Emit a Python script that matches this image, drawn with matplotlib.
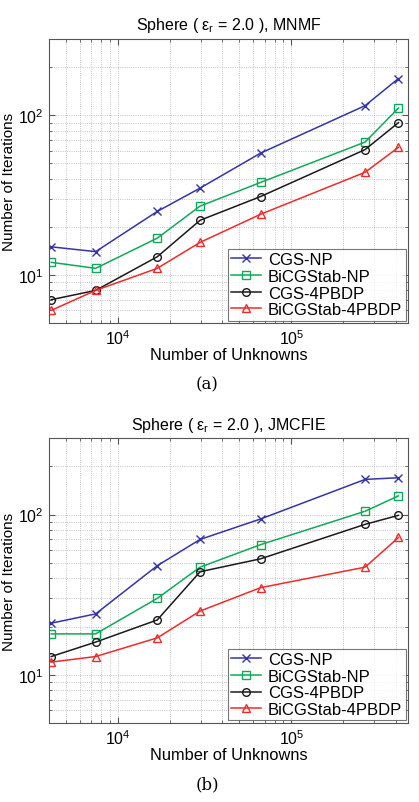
import matplotlib
matplotlib.use("Agg")
import matplotlib.pyplot as plt
from matplotlib.ticker import LogLocator, NullFormatter

plt.rcParams['font.family'] = ['Liberation Sans', 'DejaVu Sans']
plt.rcParams['mathtext.fontset'] = 'custom'
plt.rcParams['mathtext.rm'] = 'Liberation Sans'
plt.rcParams['mathtext.it'] = 'Liberation Sans'

# Number of unknowns (shared by both panels)
unknowns = [4100, 7400, 16800, 29700, 66500, 267000, 416000]

labels = ["CGS-NP", "BiCGStab-NP", "CGS-4PBDP", "BiCGStab-4PBDP"]

# (a) MNMF
mnmf_cgs_np = [15, 14, 25, 35, 58, 115, 170]
mnmf_bicg_np = [12, 11, 17, 27, 38, 68, 111]
mnmf_cgs_pb = [7, 8, 13, 22, 31, 61, 90]
mnmf_bicg_pb = [6, 8, 11, 16, 24, 44, 63]

# (b) JMCFIE
jm_cgs_np = [21, 24, 48, 70, 94, 166, 170]
jm_bicg_np = [18, 18, 30, 47, 65, 105, 131]
jm_cgs_pb = [13, 16, 22, 44, 53, 87, 99]
jm_bicg_pb = [12, 13, 17, 25, 35, 47, 72]

colors = ['#3434a8', '#12a85a', '#1a1a1a', '#ee2b2b']
markers = ['x', 's', 'o', '^']

panels = [
    ("MNMF", [mnmf_cgs_np, mnmf_bicg_np, mnmf_cgs_pb, mnmf_bicg_pb], "(a)"),
    ("JMCFIE", [jm_cgs_np, jm_bicg_np, jm_cgs_pb, jm_bicg_pb], "(b)"),
]

fig = plt.figure(figsize=(4.19, 8.03), dpi=100)
boxes = [[0.117, 0.5965, 0.857, 0.3535], [0.117, 0.0984, 0.857, 0.3546]]

for (name, series, tag), box in zip(panels, boxes):
    ax = fig.add_axes(box)
    for vals, lab, c, m in zip(series, labels, colors, markers):
        ax.plot(unknowns, vals, color=c, marker=m, markersize=5.5,
                markerfacecolor='none', markeredgewidth=1.0, linewidth=1.1,
                label=lab)
    ax.set_xscale('log')
    ax.set_yscale('log')
    ax.set_xlim(3980, 473000)
    ax.set_ylim(5, 300)
    ax.xaxis.set_major_locator(LogLocator(base=10, numticks=10))
    ax.xaxis.set_minor_locator(LogLocator(base=10, subs=range(2, 10), numticks=20))
    ax.xaxis.set_minor_formatter(NullFormatter())
    ax.yaxis.set_minor_formatter(NullFormatter())
    ax.grid(True, which='both', linestyle=':', color='#b0b0b0', linewidth=0.6)
    ax.tick_params(which='both', direction='in', top=True, right=True,
                   labelsize=11.5, color='#555555')
    ax.tick_params(which='major', length=4, pad=4)
    ax.tick_params(which='minor', length=2)
    for s in ax.spines.values():
        s.set_color('#555555')
        s.set_linewidth(0.8)
    ax.set_title("Sphere ( $\\varepsilon_{\\rm r}$ = 2.0 ), " + name,
                 fontsize=11.5, pad=7)
    ax.set_xlabel("Number of Unknowns", fontsize=11.8, labelpad=0)
    ax.set_ylabel("Number of Iterations", fontsize=11)
    ax.yaxis.set_label_coords(-0.093, 0.5)
    leg = ax.legend(loc='lower right', fontsize=12, frameon=True, fancybox=False,
                    borderpad=0.2, labelspacing=0.1, handlelength=1.8,
                    handletextpad=0.4, borderaxespad=0.15)
    leg.get_frame().set_edgecolor('#555555')
    leg.get_frame().set_linewidth(0.8)
    fig.text(207 / 419, box[1] - 0.082, tag,
             fontsize=12, family='DejaVu Serif', ha='center')

fig.savefig("out.png", dpi=100)
